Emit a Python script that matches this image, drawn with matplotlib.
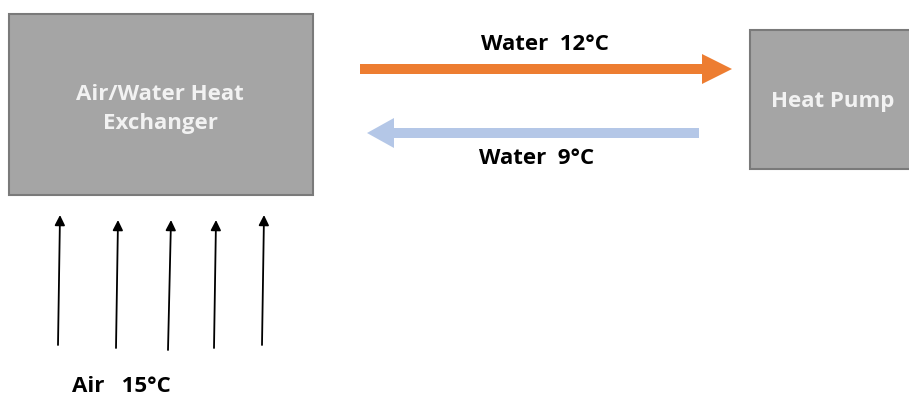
import matplotlib.pyplot as plt
from matplotlib.patches import Rectangle, FancyArrow

# labels / temperatures
box_labels = ["Air/Water Heat\nExchanger", "Heat Pump"]
water_temps = [12, 9]
air_temp = 15

# air arrows (bottom x, top x, bottom y, top y) in pixel coords
air_x0 = [58, 116, 168, 214, 262]
air_x1 = [60, 118, 171, 216, 264]
air_y0 = [345, 348, 350, 348, 345]
air_y1 = [215, 220, 220, 220, 215]

plt.rcParams['font.family'] = ['Open Sans', 'DejaVu Sans']

fig = plt.figure(figsize=(9.09, 3.98), dpi=100)
ax = fig.add_axes([0, 0, 1, 1])
ax.set_xlim(0, 909)
ax.set_ylim(398, 0)
ax.axis('off')

box_face = '#a5a5a5'
box_edge = '#7a7a7a'
txt_col = '#f2f2f2'

# boxes
ax.add_patch(Rectangle((9, 14), 304, 181, facecolor=box_face, edgecolor=box_edge, lw=1.5))
ax.add_patch(Rectangle((750, 30), 170, 139, facecolor=box_face, edgecolor=box_edge, lw=1.5))
ax.text(160, 109, box_labels[0], ha='center', va='center', color=txt_col,
        fontsize=16, fontweight='bold', linespacing=1.55)
ax.text(833, 101, box_labels[1], ha='center', va='center', color=txt_col,
        fontsize=16, fontweight='bold')

# water arrows
ax.add_patch(FancyArrow(360, 69, 372, 0, width=10, head_width=30, head_length=30,
                        length_includes_head=True, color='#ed7d31', lw=0))
ax.add_patch(FancyArrow(699, 133, -332, 0, width=10, head_width=30, head_length=27,
                        length_includes_head=True, color='#b4c7e7', lw=0))
ax.text(545, 45, "Water  %d°C" % water_temps[0], ha='center', va='center',
        fontsize=16, fontweight='bold', color='black')
ax.text(537, 158, "Water  %d°C" % water_temps[1], ha='center', va='center',
        fontsize=16, fontweight='bold', color='black')

# air arrows
for x0, x1, y0, y1 in zip(air_x0, air_x1, air_y0, air_y1):
    ax.annotate('', xy=(x1, y1), xytext=(x0, y0),
                arrowprops=dict(arrowstyle='-|>', color='black', lw=1.3,
                                mutation_scale=15, shrinkA=0, shrinkB=0))
ax.text(121, 386, "Air   %d°C" % air_temp, ha='center', va='center',
        fontsize=16, fontweight='bold', color='black')

fig.savefig('out.png', dpi=100)
